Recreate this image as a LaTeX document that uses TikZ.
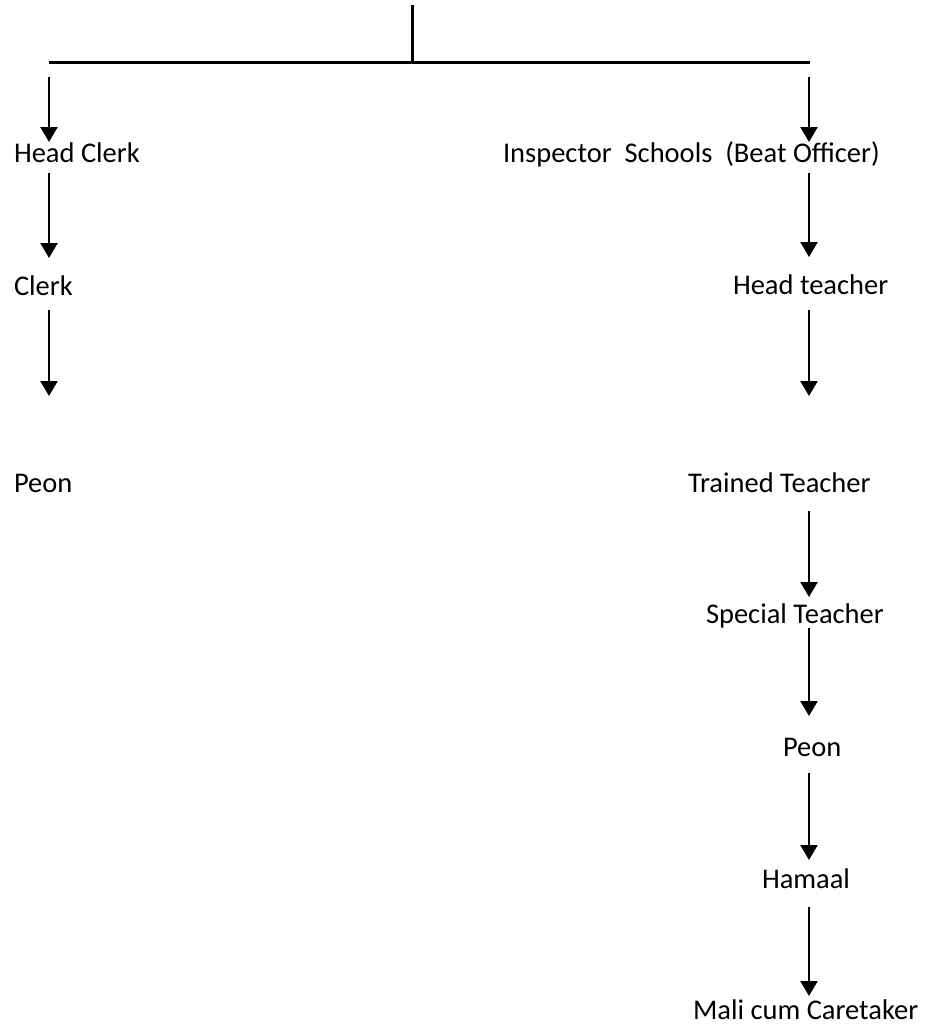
\documentclass[tikz,border=0pt]{standalone}
\usepackage{fontspec}
\setmainfont{Carlito}
\usetikzlibrary{arrows.meta}
\begin{document}
\begin{tikzpicture}[x=1pt,y=-1pt,
  lbl/.style={inner sep=0pt,outer sep=0pt,text height=16pt,text depth=0pt,anchor=base west,font=\fontsize{28.5}{34}\selectfont},
  bar/.style={line width=3pt},
  arr/.style={line width=2.2pt,-{Triangle[width=17pt,length=15pt]}}]
\useasboundingbox (0,0) rectangle (925,1026);
% column and bar coordinates
\coordinate (colL) at (49,0);
\coordinate (colR) at (809,0);
\coordinate (top) at (412,5);
\coordinate (jn) at (412,62);
\coordinate (bl) at (49,62);
\coordinate (br) at (810,62);
% labels
\node[lbl] (hc) at (14,162) {Head Clerk};
\node[lbl] (cl) at (14,295) {Clerk};
\node[lbl] (pl) at (14,492) {Peon};
\node[lbl] (is) at (503,162) {Inspector\ \ Schools\ \ (Beat Officer)};
\node[lbl] (ht) at (733,294) {Head teacher};
\node[lbl] (tt) at (688,492) {Trained Teacher};
\node[lbl] (st) at (706,623) {Special Teacher};
\node[lbl] (pr) at (783,756) {Peon};
\node[lbl] (hm) at (762,888) {Hamaal};
\node[lbl] (mc) at (693,1019) {Mali cum Caretaker};
% bar
\draw[bar] (top) -- (jn);
\draw[bar] (bl) -- (br);
% left branch
\draw[arr,shorten <=15pt,shorten >=4pt] (bl) -- (hc.north -| colL);
\draw[arr,shorten <=11pt,shorten >=21pt] (hc.south -| colL) -- (cl.north -| colL);
\draw[arr,shorten <=15pt,shorten >=80pt] (cl.south -| colL) -- (pl.north -| colL);
% right branch
\draw[arr,shorten <=15pt,shorten >=4pt] (bl -| colR) -- (is.north -| colR);
\draw[arr,shorten <=11pt,shorten >=21pt] (is.south -| colR) -- (ht.north -| colR);
\draw[arr,shorten <=16pt,shorten >=80pt] (ht.south -| colR) -- (tt.north -| colR);
\draw[arr,shorten <=19pt,shorten >=10pt] (tt.south -| colR) -- (st.north -| colR);
\draw[arr,shorten <=5pt,shorten >=24pt] (st.south -| colR) -- (pr.north -| colR);
\draw[arr,shorten <=17pt,shorten >=12pt] (pr.south -| colR) -- (hm.north -| colR);
\draw[arr,shorten <=19pt,shorten >=7pt] (hm.south -| colR) -- (mc.north -| colR);
\end{tikzpicture}
\end{document}
